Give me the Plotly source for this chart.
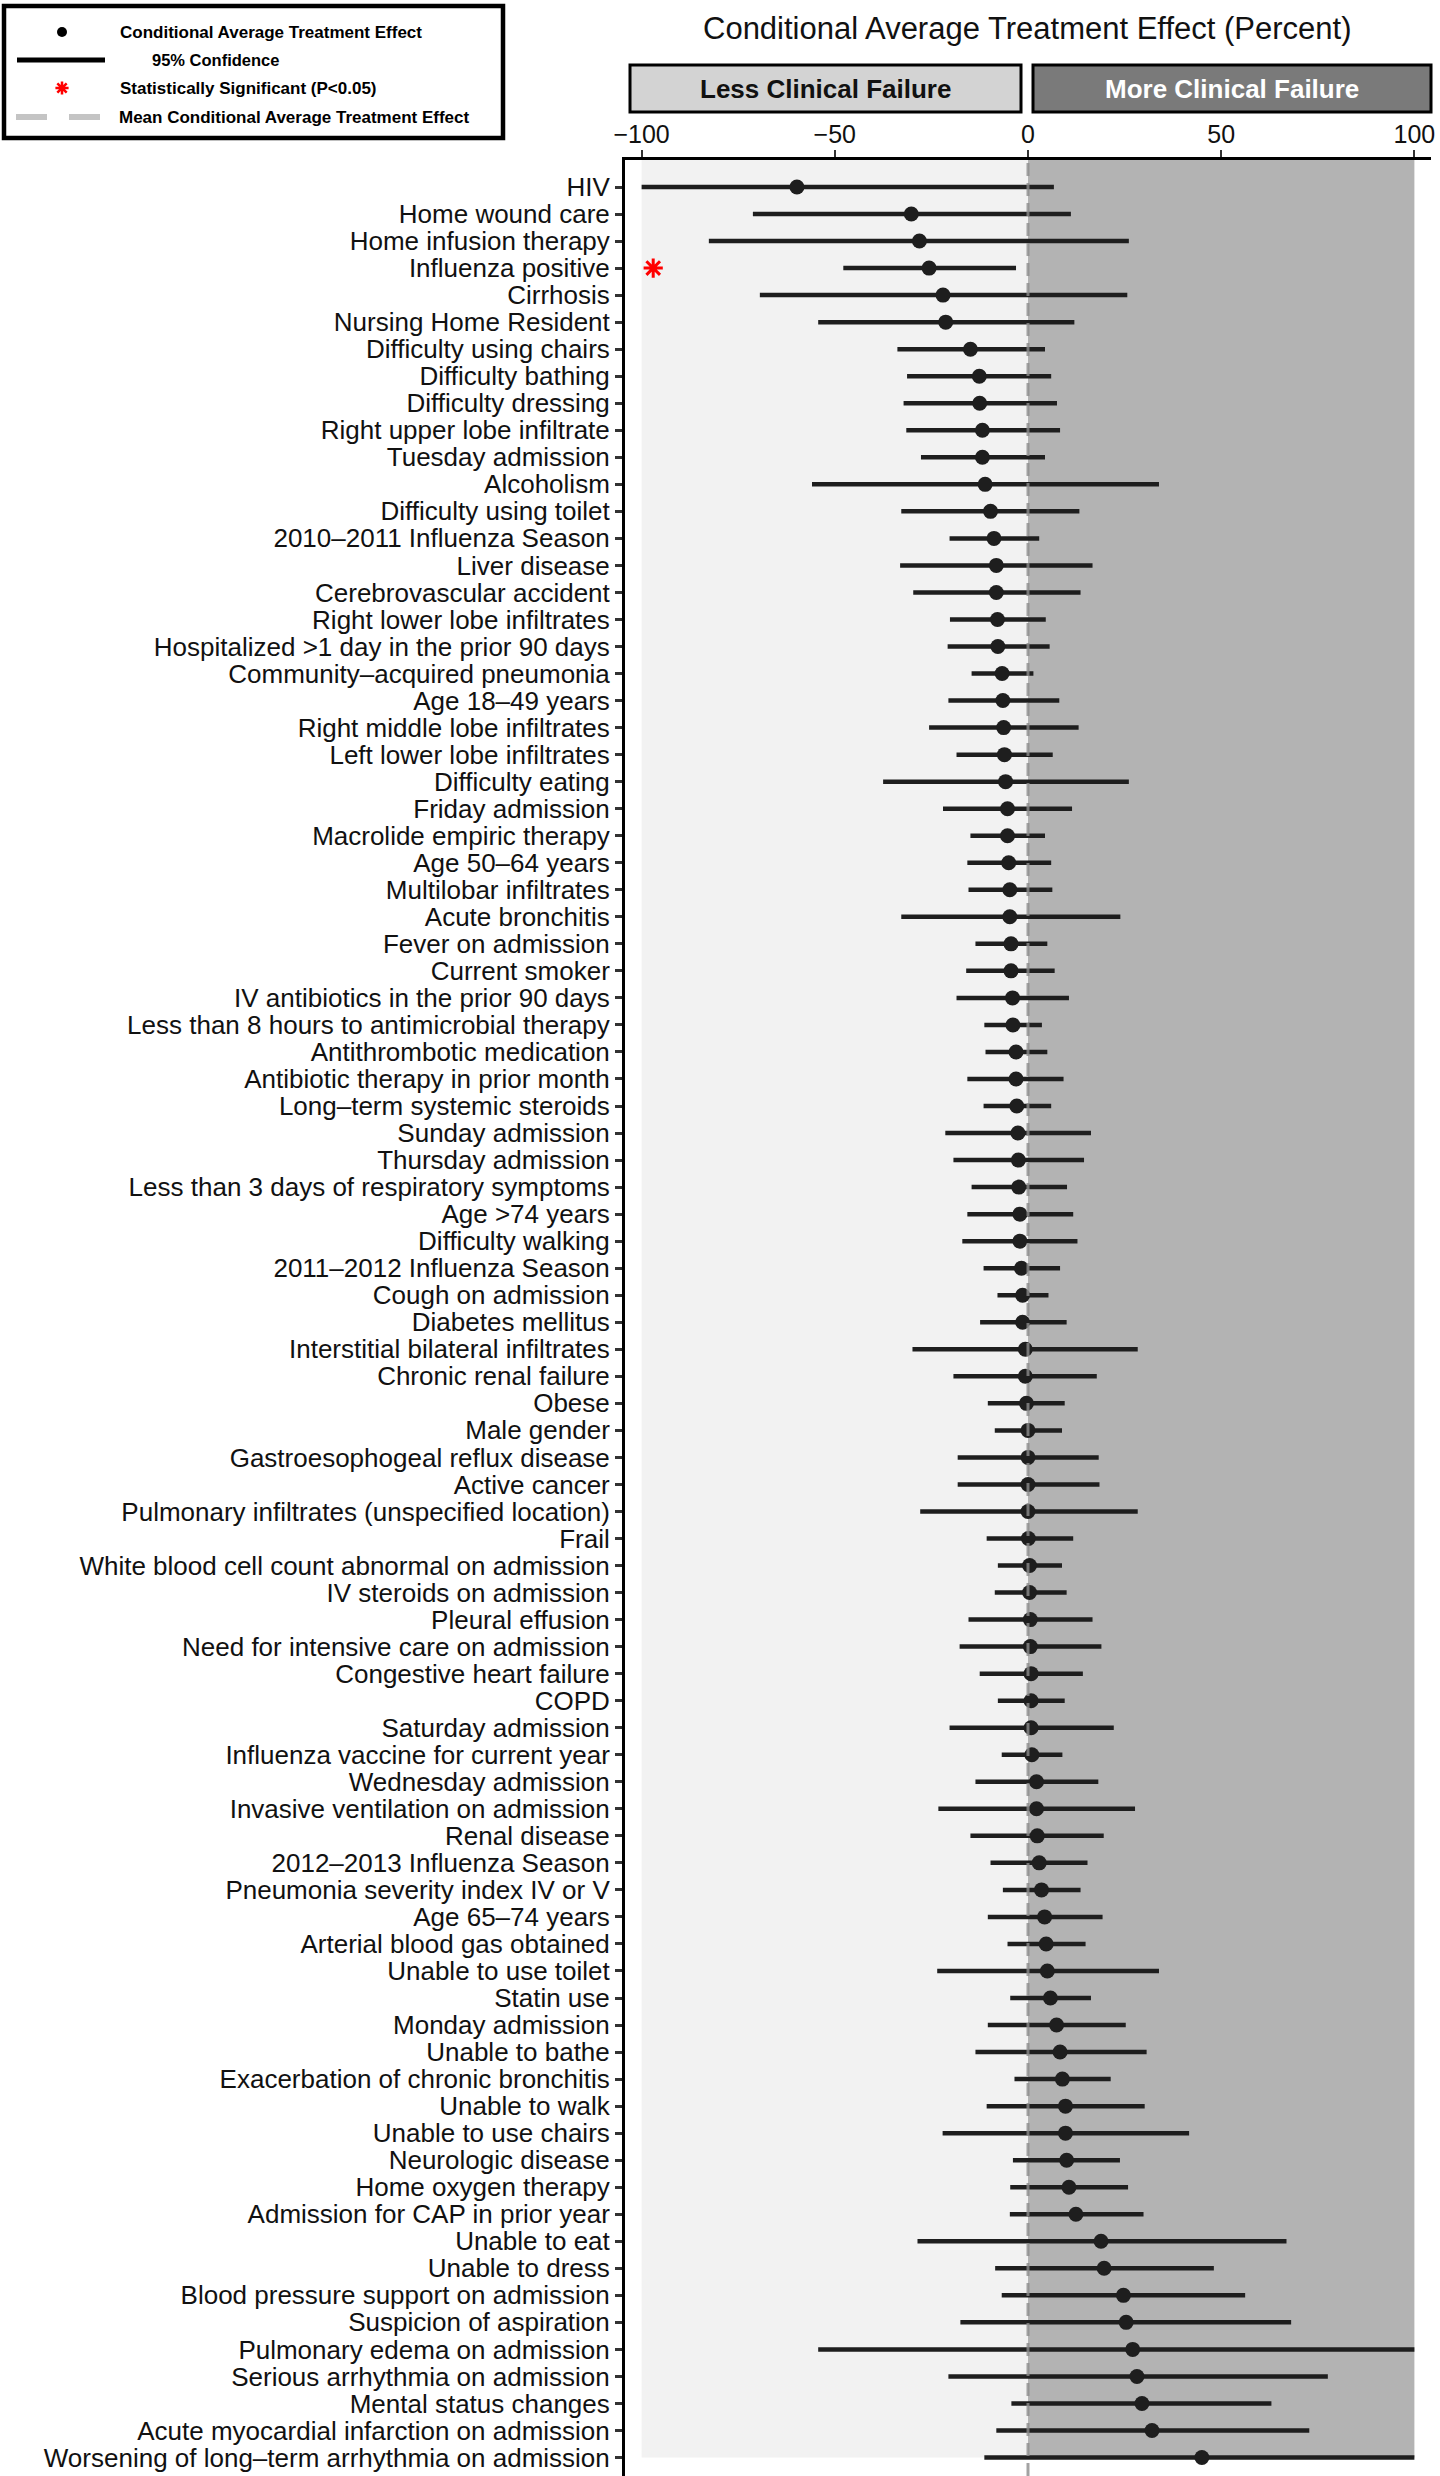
import plotly.graph_objects as go

# ---------------- data ----------------
labels = [
    "HIV", "Home wound care", "Home infusion therapy", "Influenza positive", "Cirrhosis",
    "Nursing Home Resident", "Difficulty using chairs", "Difficulty bathing", "Difficulty dressing",
    "Right upper lobe infiltrate", "Tuesday admission", "Alcoholism", "Difficulty using toilet",
    "2010–2011 Influenza Season", "Liver disease", "Cerebrovascular accident",
    "Right lower lobe infiltrates", "Hospitalized >1 day in the prior 90 days",
    "Community–acquired pneumonia", "Age 18–49 years", "Right middle lobe infiltrates",
    "Left lower lobe infiltrates", "Difficulty eating", "Friday admission",
    "Macrolide empiric therapy", "Age 50–64 years", "Multilobar infiltrates", "Acute bronchitis",
    "Fever on admission", "Current smoker", "IV antibiotics in the prior 90 days",
    "Less than 8 hours to antimicrobial therapy", "Antithrombotic medication",
    "Antibiotic therapy in prior month", "Long–term systemic steroids", "Sunday admission",
    "Thursday admission", "Less than 3 days of respiratory symptoms", "Age >74 years",
    "Difficulty walking", "2011–2012 Influenza Season", "Cough on admission", "Diabetes mellitus",
    "Interstitial bilateral infiltrates", "Chronic renal failure", "Obese", "Male gender",
    "Gastroesophogeal reflux disease", "Active cancer",
    "Pulmonary infiltrates (unspecified location)", "Frail",
    "White blood cell count abnormal on admission", "IV steroids on admission", "Pleural effusion",
    "Need for intensive care on admission", "Congestive heart failure", "COPD",
    "Saturday admission", "Influenza vaccine for current year", "Wednesday admission",
    "Invasive ventilation on admission", "Renal disease", "2012–2013 Influenza Season",
    "Pneumonia severity index IV or V", "Age 65–74 years", "Arterial blood gas obtained",
    "Unable to use toilet", "Statin use", "Monday admission", "Unable to bathe",
    "Exacerbation of chronic bronchitis", "Unable to walk", "Unable to use chairs",
    "Neurologic disease", "Home oxygen therapy", "Admission for CAP in prior year",
    "Unable to eat", "Unable to dress", "Blood pressure support on admission",
    "Suspicion of aspiration", "Pulmonary edema on admission", "Serious arrhythmia on admission",
    "Mental status changes", "Acute myocardial infarction on admission",
    "Worsening of long–term arrhythmia on admission",
]

cate = [
    -59.8, -30.2, -28.1, -25.6, -22.0, -21.3, -14.9, -12.6, -12.5, -11.8,
    -11.8, -11.1, -9.7, -8.8, -8.2, -8.2, -7.9, -7.8, -6.7, -6.5,
    -6.3, -6.1, -5.8, -5.3, -5.3, -5.0, -4.7, -4.7, -4.4, -4.4,
    -4.0, -3.9, -3.1, -3.1, -2.9, -2.6, -2.5, -2.4, -2.1, -2.1,
    -1.7, -1.4, -1.4, -0.7, -0.7, -0.4, 0.0, 0.0, 0.0, 0.0,
    0.1, 0.4, 0.4, 0.6, 0.6, 0.8, 0.8, 0.8, 1.0, 2.2,
    2.2, 2.4, 2.9, 3.5, 4.3, 4.7, 5.0, 5.8, 7.4, 8.3,
    8.9, 9.7, 9.7, 10.0, 10.6, 12.4, 18.9, 19.7, 24.7, 25.4,
    27.1, 28.2, 29.5, 32.1, 45.0,
]

ci_low = [
    -100.0, -71.2, -82.6, -47.8, -69.4, -54.3, -33.8, -31.3, -32.2, -31.5,
    -27.7, -55.9, -32.8, -20.3, -33.1, -29.7, -20.2, -20.8, -14.6, -20.6,
    -25.6, -18.5, -37.5, -22.0, -14.9, -15.7, -15.4, -32.8, -13.6, -16.0,
    -18.5, -11.3, -11.0, -15.7, -11.5, -21.4, -19.3, -14.6, -15.7, -17.0,
    -11.5, -7.9, -12.4, -29.9, -19.3, -10.4, -8.6, -18.2, -18.2, -27.9,
    -10.7, -7.8, -8.6, -15.4, -17.7, -12.5, -7.8, -20.3, -6.8, -13.6,
    -23.2, -14.9, -9.7, -6.5, -10.4, -5.3, -23.5, -4.6, -10.4, -13.6,
    -3.5, -10.7, -22.1, -3.9, -4.6, -4.7, -28.6, -8.5, -6.8, -17.5,
    -54.3, -20.6, -4.3, -8.2, -11.3,
]

ci_high = [
    6.7, 11.1, 26.1, -3.1, 25.7, 12.0, 4.4, 6.0, 7.5, 8.3,
    4.4, 33.9, 13.3, 2.9, 16.7, 13.6, 4.6, 5.6, 1.4, 8.1,
    13.1, 6.4, 26.1, 11.4, 4.4, 6.0, 6.3, 23.9, 5.0, 6.9,
    10.6, 3.6, 5.0, 9.2, 6.0, 16.3, 14.5, 10.1, 11.7, 12.8,
    8.3, 5.3, 10.0, 28.4, 17.8, 9.5, 8.8, 18.3, 18.5, 28.4,
    11.7, 8.8, 10.0, 16.7, 19.0, 14.2, 9.5, 22.2, 8.9, 18.2,
    27.7, 19.6, 15.4, 13.6, 19.3, 14.9, 33.9, 16.3, 25.3, 30.7,
    21.4, 30.2, 41.7, 23.8, 25.9, 29.9, 66.9, 48.1, 56.2, 68.1,
    100.0, 77.6, 63.0, 72.8, 100.0,
]

significant = ["Influenza positive"]
mean_cate = 0.0
star_x = -97.0

x_ticks = [-100, -50, 0, 50, 100]
x_ticktext = ["\u2212100", "\u221250", "0", "50", "100"]

title_text = "Conditional Average Treatment Effect (Percent)"
less_text = "Less Clinical Failure"
more_text = "More Clinical Failure"
legend_texts = [
    "Conditional Average Treatment Effect",
    "95% Confidence",
    "Statistically Significant (P&lt;0.05)",
    "Mean Conditional Average Treatment Effect",
]

# ---------------- layout constants (pixels) ----------------
W, H = 1440, 2476
PLOT_L, PLOT_R, PLOT_T = 625, 1431, 160
FONT = "Liberation Sans, Arial, Helvetica, sans-serif"
INK = "#1e1e1e"

n = len(labels)
ypos = [n - i for i in range(n)]
row_px = 27.03
first_row_px = 187.0
y_top = ypos[0] + (first_row_px - PLOT_T) / row_px
y_bot = ypos[0] - (H - first_row_px) / row_px

fig = go.Figure()

# confidence interval segments
xs, ys = [], []
for lo, hi, y in zip(ci_low, ci_high, ypos):
    xs += [lo, hi, None]
    ys += [y, y, None]
fig.add_trace(go.Scatter(x=xs, y=ys, mode="lines", line=dict(color=INK, width=4.5),
                         hoverinfo="skip", showlegend=False))

# point estimates
fig.add_trace(go.Scatter(x=cate, y=ypos, mode="markers",
                         marker=dict(color=INK, size=15, line=dict(width=0)),
                         text=labels, showlegend=False))

# significance stars
sig_y = [y for lab, y in zip(labels, ypos) if lab in significant]
fig.add_trace(go.Scatter(x=[star_x] * len(sig_y), y=sig_y, mode="markers",
                         marker=dict(symbol="asterisk-open", size=16, color="red",
                                     line=dict(color="red", width=3)),
                         showlegend=False))

# mean line
fig.add_trace(go.Scatter(x=[mean_cate, mean_cate], y=[y_bot, y_top], mode="lines",
                         line=dict(color="rgba(140,140,140,0.8)", width=3, dash="13px,7px"),
                         showlegend=False, hoverinfo="skip"))

# ---------- legend symbols on a pixel-space overlay ----------
leg_rows = [32, 60, 88, 117]
fig.add_trace(go.Scatter(x=[62], y=[leg_rows[0]], xaxis="x2", yaxis="y2", mode="markers",
                         marker=dict(color="black", size=10), showlegend=False, hoverinfo="skip"))
fig.add_trace(go.Scatter(x=[17, 105], y=[leg_rows[1]] * 2, xaxis="x2", yaxis="y2", mode="lines",
                         line=dict(color="black", width=5), showlegend=False, hoverinfo="skip"))
fig.add_trace(go.Scatter(x=[62], y=[leg_rows[2]], xaxis="x2", yaxis="y2", mode="markers",
                         marker=dict(symbol="asterisk-open", size=11, color="red",
                                     line=dict(color="red", width=2.5)),
                         showlegend=False, hoverinfo="skip"))
fig.add_trace(go.Scatter(x=[16, 101], y=[leg_rows[3]] * 2, xaxis="x2", yaxis="y2", mode="lines",
                         line=dict(color="#c4c4c4", width=6, dash="31px,22px"),
                         showlegend=False, hoverinfo="skip"))

shapes = [
    # panels
    dict(type="rect", xref="x", yref="y", x0=-100, x1=0, y0=1, y1=y_top,
         fillcolor="#f2f2f2", line=dict(width=0), layer="below"),
    dict(type="rect", xref="x", yref="y", x0=0, x1=100, y0=1, y1=y_top,
         fillcolor="#b3b3b3", line=dict(width=0), layer="below"),
    # legend box
    dict(type="rect", xref="x2", yref="y2", x0=4, x1=503, y0=6, y1=138,
         fillcolor="white", line=dict(color="black", width=4.5), layer="below"),
    # header boxes
    dict(type="rect", xref="x2", yref="y2", x0=630, x1=1021, y0=65, y1=112,
         fillcolor="#d3d3d3", line=dict(color="black", width=3)),
    dict(type="rect", xref="x2", yref="y2", x0=1033, x1=1431, y0=65, y1=112,
         fillcolor="#7a7a7a", line=dict(color="black", width=3)),
]

annotations = [
    dict(text=title_text, xref="x2", yref="y2", x=1027, y=28, showarrow=False,
         font=dict(family=FONT, size=31, color="#111"), xanchor="center", yanchor="middle"),
    dict(text="<b>%s</b>" % less_text, xref="x2", yref="y2", x=825, y=89, showarrow=False,
         font=dict(family=FONT, size=26, color="#111"), xanchor="center", yanchor="middle"),
    dict(text="<b>%s</b>" % more_text, xref="x2", yref="y2", x=1232, y=89, showarrow=False,
         font=dict(family=FONT, size=26, color="white"), xanchor="center", yanchor="middle"),
]
leg_x = [118, 150, 118, 117]
leg_size = [17, 16.5, 17, 17]
for t, xx, yy, sz in zip(legend_texts, leg_x, leg_rows, leg_size):
    annotations.append(dict(text="<b>%s</b>" % t, xref="x2", yref="y2", x=xx, y=yy,
                            showarrow=False, xanchor="left", yanchor="middle",
                            font=dict(family=FONT, size=sz, color="black")))

fig.update_layout(
    width=W, height=H, margin=dict(l=0, r=0, t=0, b=0, pad=0),
    paper_bgcolor="white", plot_bgcolor="rgba(0,0,0,0)",
    template="none", showlegend=False,
    font=dict(family=FONT, color="black"),
    shapes=shapes, annotations=annotations,
    xaxis=dict(domain=[PLOT_L / W, PLOT_R / W], range=[-104.3, 104.3], side="top",
               showline=True, linecolor="black", linewidth=3, mirror=False,
               ticks="outside", ticklen=7, tickwidth=2, tickcolor="#333",
               tickvals=x_ticks, ticktext=x_ticktext, ticklabelstandoff=-3,
               tickfont=dict(family=FONT, size=25, color="#111"),
               showgrid=False, zeroline=False, anchor="y", automargin=False, fixedrange=True),
    yaxis=dict(domain=[0, (H - PLOT_T) / H], range=[y_bot, y_top],
               showline=True, linecolor="black", linewidth=3,
               ticks="outside", ticklen=7, tickwidth=2.5, tickcolor="#333",
               tickvals=ypos, ticktext=labels,
               tickfont=dict(family=FONT, size=26, color="#111"),
               showgrid=False, zeroline=False, anchor="x", automargin=False, fixedrange=True),
    xaxis2=dict(domain=[0, 1], range=[0, W], visible=False, anchor="y2", fixedrange=True),
    yaxis2=dict(domain=[0, 1], range=[H, 0], visible=False, anchor="x2", fixedrange=True),
)

fig.write_html("out.html", config={"displayModeBar": False},
               post_script="document.body.style.margin='0px';")
